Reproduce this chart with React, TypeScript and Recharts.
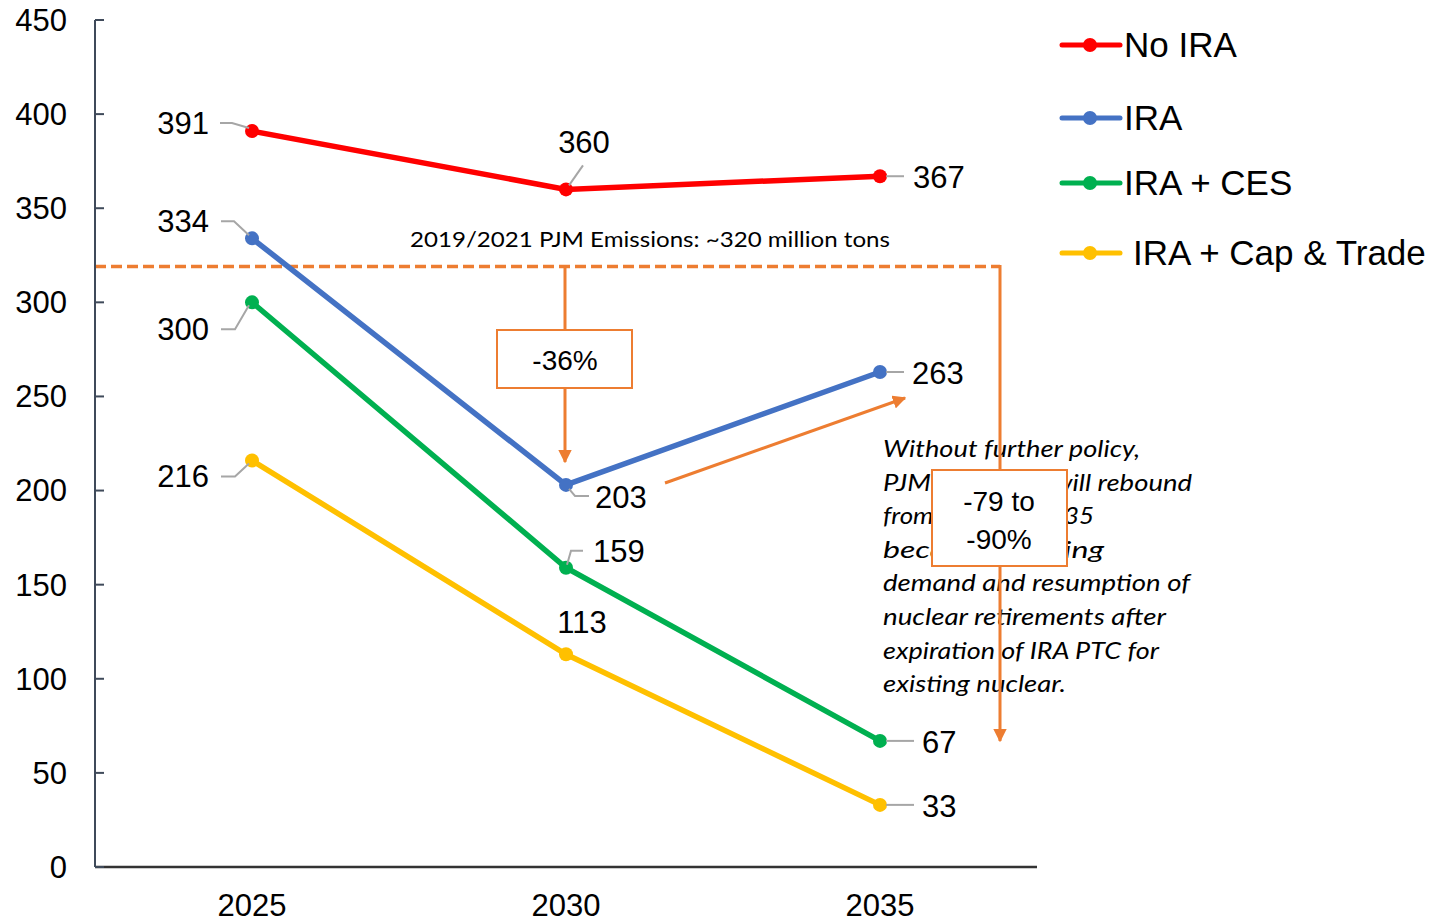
import React from 'react';
import { LineChart, Line, XAxis, YAxis, ReferenceLine, Legend, LabelList } from 'recharts';

const years = ['2025', '2030', '2035'];
const noIra = [391, 360, 367];
const ira = [334, 203, 263];
const iraCes = [300, 159, 67];
const iraCap = [216, 113, 33];
const yTicks = [0, 50, 100, 150, 200, 250, 300, 350, 400, 450];
const baseline = 319;

const data = years.map((y, i) => ({
  year: y,
  noIra: noIra[i],
  ira: ira[i],
  iraCes: iraCes[i],
  iraCap: iraCap[i],
}));

const FONT = '"Liberation Sans", Arial, sans-serif';
const NOTE_FONT = 'Lato, "Open Sans", sans-serif';
const ORANGE = '#ed7d31';

const series = [
  { key: 'noIra', name: 'No IRA', color: '#ff0000' },
  { key: 'ira', name: 'IRA', color: '#4472c4' },
  { key: 'iraCes', name: 'IRA + CES', color: '#00b050' },
  { key: 'iraCap', name: 'IRA + Cap & Trade', color: '#ffc000' },
];

// label placement per series/point (pixel offsets from the dot)
type Place = { dx: number; dy: number; anchor: 'start' | 'middle' | 'end'; leader?: number[][] };
const placements: Record<string, Place[]> = {
  noIra: [
    { dx: -43, dy: -8, anchor: 'end', leader: [[-3, -3], [-20, -8], [-32, -8]] },
    { dx: 18, dy: -47, anchor: 'middle', leader: [[3, -4], [17, -24]] },
    { dx: 33, dy: 1, anchor: 'start', leader: [[6, 0], [24, 0]] },
  ],
  ira: [
    { dx: -43, dy: -17, anchor: 'end', leader: [[-3, -3], [-18, -17], [-31, -17]] },
    { dx: 29, dy: 12, anchor: 'start', leader: [[3, 4], [9, 11], [23, 11]] },
    { dx: 32, dy: 1, anchor: 'start', leader: [[6, 0], [24, 0]] },
  ],
  iraCes: [
    { dx: -43, dy: 27, anchor: 'end', leader: [[-3, 3], [-17, 27], [-31, 27]] },
    { dx: 27, dy: -17, anchor: 'start', leader: [[1, -3], [5, -17], [17, -17]] },
    { dx: 42, dy: 1, anchor: 'start', leader: [[6, 0], [34, 0]] },
  ],
  iraCap: [
    { dx: -43, dy: 16, anchor: 'end', leader: [[-3, 3], [-17, 16], [-31, 16]] },
    { dx: 16, dy: -32, anchor: 'middle' },
    { dx: 42, dy: 1, anchor: 'start', leader: [[6, 0], [34, 0]] },
  ],
};

const makeLabel = (key: string) => (props: any) => {
  const { x, y, value, index } = props;
  const p = placements[key][index];
  if (!p) return null;
  return (
    <g>
      {p.leader && (
        <polyline
          points={p.leader.map((q) => `${x + q[0]},${y + q[1]}`).join(' ')}
          fill="none"
          stroke="#a6a6a6"
          strokeWidth={2}
        />
      )}
      <text x={x + p.dx} y={y + p.dy} dy="0.35em" textAnchor={p.anchor} fontFamily={FONT} fontSize={31} fill="#000">
        {value}
      </text>
    </g>
  );
};

const YTick = (props: any) => {
  const { x, y, payload } = props;
  return (
    <g>
      <line x1={x + 28} y1={y} x2={x + 37} y2={y} stroke="#3f4a5a" strokeWidth={2} />
      <text x={x} y={y} dy="0.35em" textAnchor="end" fontFamily={FONT} fontSize={31} fill="#000">
        {payload.value}
      </text>
    </g>
  );
};

const XTick = (props: any) => {
  const { x, y, payload } = props;
  return (
    <text x={x} y={y + 38} dy="0.35em" textAnchor="middle" fontFamily={FONT} fontSize={31} fill="#000">
      {payload.value}
    </text>
  );
};

const legendDx = [0, 0, 0, 9];
const legendY = [25, 98, 163, 233];

const renderLegend = () => (
  <svg width={384} height={260} style={{ display: 'block' }}>
    {series.map((s, i) => (
      <g key={s.key}>
        <line x1={4} y1={legendY[i]} x2={62} y2={legendY[i]} stroke={s.color} strokeWidth={5} strokeLinecap="round" />
        <circle cx={32} cy={legendY[i]} r={7} fill={s.color} />
        <text x={66 + legendDx[i]} y={legendY[i]} dy="0.35em" fontFamily={FONT} fontSize={35} fill="#000">
          {s.name}
        </text>
      </g>
    ))}
  </svg>
);

const BaselineShape = (props: any) => {
  const { x1, y1 } = props;
  return <line x1={x1} y1={y1} x2={1000} y2={y1} stroke={ORANGE} strokeWidth={3.5} strokeDasharray="11 5" />;
};

const noteLines = [
  ['Without further policy,', 257],
  ['PJM emissions will rebound', 309],
  ['from 2030 to 2035', 211],
  ['because of rising', 221],
  ['demand and resumption of', 307],
  ['nuclear retirements after', 283],
  ['expiration of IRA PTC for', 276],
  ['existing nuclear.', 183],
] as const;

const Annotations = () => (
  <svg width={1442} height={923} style={{ position: 'absolute', left: 0, top: 0, pointerEvents: 'none' }}>
    <defs>
      <marker id="arr" viewBox="0 0 10 10" refX="9" refY="5" markerWidth="4.5" markerHeight="4.5" orient="auto">
        <path d="M0,0 L10,5 L0,10 z" fill={ORANGE} />
      </marker>
    </defs>
    <text x={410} y={239} dy="0.35em" fontFamily={NOTE_FONT} fontSize={22} textLength={480} lengthAdjust="spacingAndGlyphs" fill="#000">
      2019/2021 PJM Emissions: ~320 million tons
    </text>
    {/* -36% arrow */}
    <line x1={565} y1={268} x2={565} y2={462} stroke={ORANGE} strokeWidth={3} markerEnd="url(#arr)" />
    <rect x={497} y={330} width={135} height={58} fill="#fff" stroke={ORANGE} strokeWidth={2} />
    <text x={565} y={360} dy="0.35em" textAnchor="middle" fontFamily={FONT} fontSize={28} fill="#000">-36%</text>
    {/* rebound arrow */}
    <line x1={665} y1={483} x2={905} y2={398} stroke={ORANGE} strokeWidth={3} markerEnd="url(#arr)" />
    {/* note text */}
    {noteLines.map(([t, w], i) => (
      <text key={i} x={883} y={449 + i * 33.6} dy="0.35em" fontFamily={NOTE_FONT} fontStyle="italic" fontSize={23} textLength={w} lengthAdjust="spacingAndGlyphs" fill="#000">
        {t}
      </text>
    ))}
    {/* -79 to -90% arrow */}
    <line x1={1000} y1={265} x2={1000} y2={741} stroke={ORANGE} strokeWidth={3} markerEnd="url(#arr)" />
    <rect x={932} y={470} width={135} height={96} fill="#fff" stroke={ORANGE} strokeWidth={2} />
    <text x={999} y={501} dy="0.35em" textAnchor="middle" fontFamily={FONT} fontSize={28} fill="#000">-79 to</text>
    <text x={999} y={539} dy="0.35em" textAnchor="middle" fontFamily={FONT} fontSize={28} fill="#000">-90%</text>
  </svg>
);

export default function App() {
  return (
    <div style={{ position: 'relative', width: 1442, height: 923, background: '#fff' }}>
      <style>{'body{margin:0;}'}</style>
      <LineChart width={1442} height={923} data={data} margin={{ top: 20, right: 405, bottom: 0, left: 0 }}>
        <XAxis
          dataKey="year"
          scale="point"
          padding={{ left: 157, right: 157 }}
          height={56}
          axisLine={{ stroke: '#333', strokeWidth: 2.5 }}
          tickLine={false}
          tickSize={0}
          tickMargin={0}
          tick={<XTick />}
        />
        <YAxis
          width={95}
          domain={[0, 450]}
          ticks={yTicks}
          interval={0}
          axisLine={{ stroke: '#3f4a5a', strokeWidth: 2 }}
          tickLine={false}
          tickSize={0}
          tickMargin={28}
          tick={<YTick />}
        />
        <ReferenceLine y={baseline} shape={<BaselineShape />} />
        {series.map((s) => (
          <Line
            key={s.key}
            dataKey={s.key}
            name={s.name}
            stroke={s.color}
            strokeWidth={5.5}
            dot={{ r: 7, fill: s.color, stroke: 'none' }}
            activeDot={false}
            isAnimationActive={false}
          >
            <LabelList dataKey={s.key} content={makeLabel(s.key)} />
          </Line>
        ))}
        <Legend
          layout="vertical"
          align="center"
          verticalAlign="middle"
          content={renderLegend}
          wrapperStyle={{ left: 1058, top: 20, width: 384, height: 260 }}
        />
      </LineChart>
      <Annotations />
    </div>
  );
}
